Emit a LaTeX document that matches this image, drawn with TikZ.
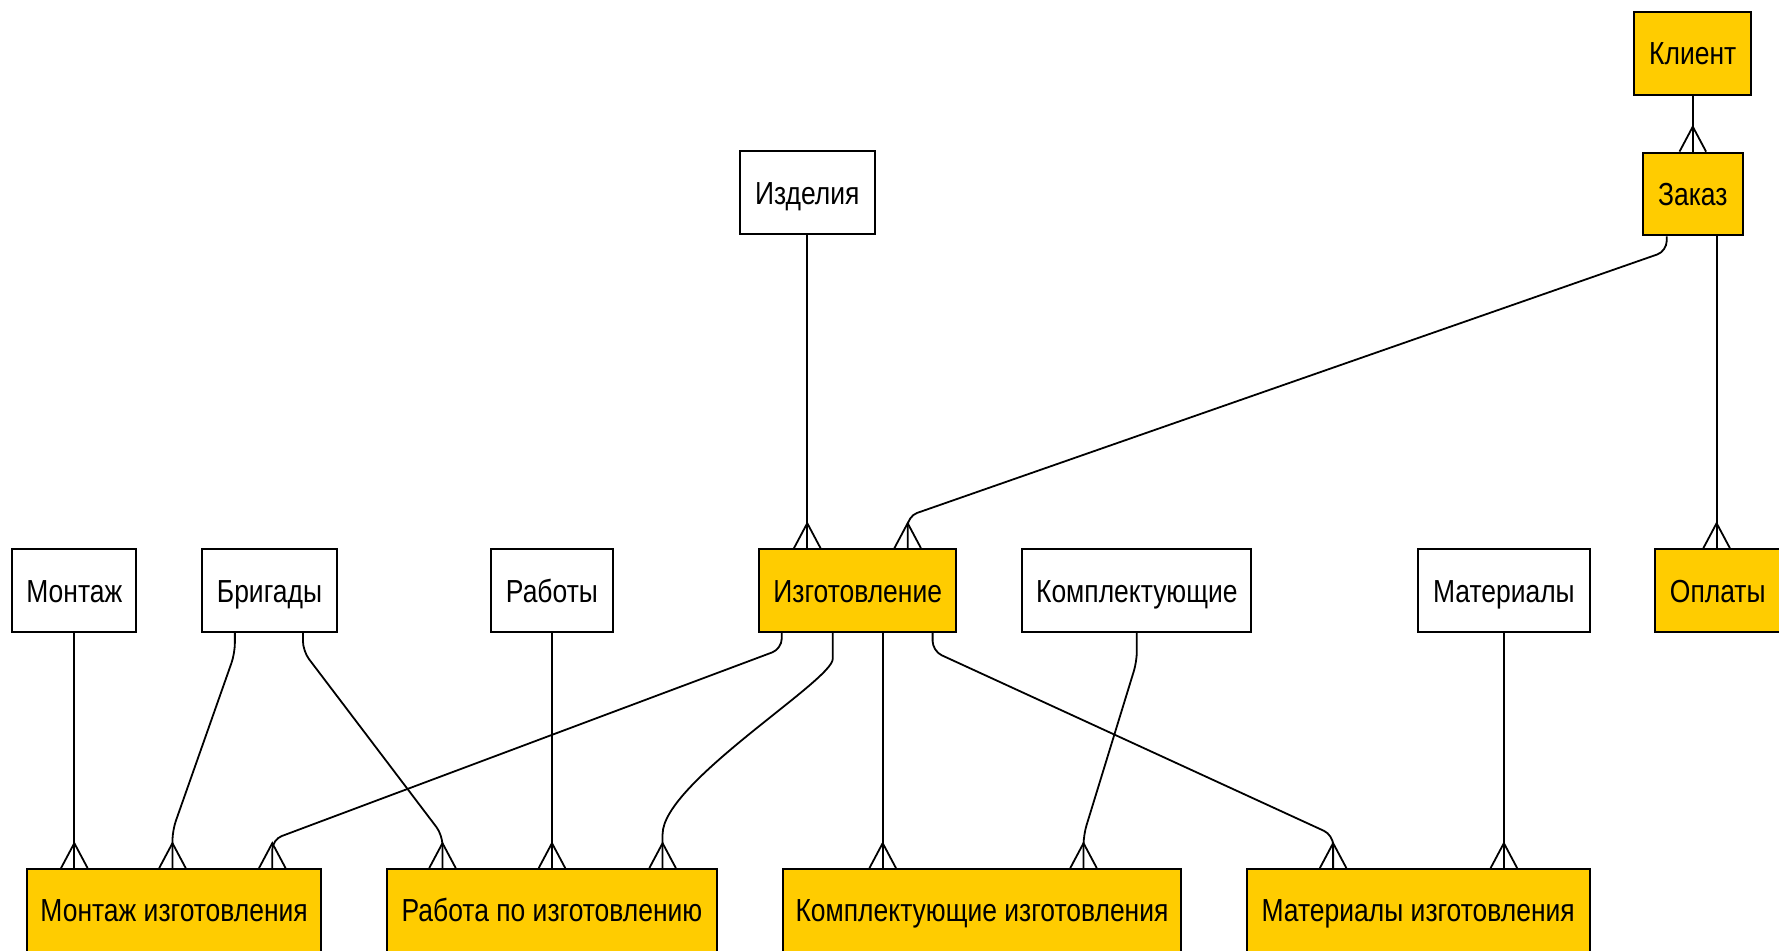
\documentclass[tikz,border=0pt]{standalone}
\usepackage{fontspec}
\setmainfont{Liberation Sans}[FakeStretch=0.83]
\usepackage{tikz}
\usetikzlibrary{positioning}
\definecolor{zheltyi}{HTML}{FFCC00}

\begin{document}
\begin{tikzpicture}[x=0.02cm, y=-0.02cm,
        tabla/.style={draw, line width=1pt, inner sep=0pt, minimum height=1.46cm,
            text height=11.5pt, text depth=0pt, font=\fontsize{16}{19}\selectfont},
        spravka/.style={tabla, fill=white},
        dannye/.style={tabla, fill=zheltyi},
        svyaz/.style={line width=0.9pt, rounded corners=5pt},
        crow/.pic={\draw[line width=0.9pt] (-11.7,0) -- (0,-22) -- (11.7,0);}]
        \useasboundingbox (0,0) rectangle (1568,838);
        \clip (0,0) rectangle (1568,838);
        \fill[white] (0,0) rectangle (1568,838);
        % Верхний ряд
        \node[dannye, minimum width=2.06cm] (klient) at (1492,47) {Клиент};
        \node[dannye, minimum width=1.76cm] (zakaz) at (1492,171) {Заказ};
        \node[spravka, minimum width=2.38cm] (izdeliya) at (711.5,170) {Изделия};
        % Средний ряд
        \node[spravka, minimum width=2.18cm] (montazh) at (65.5,520.5) {Монтаж};
        \node[spravka, minimum width=2.38cm] (brigady) at (237.5,520.5) {Бригады};
        \node[spravka, minimum width=2.14cm] (raboty) at (486.5,520.5) {Работы};
        \node[dannye, minimum width=3.48cm] (izgot) at (756,520.5) {Изготовление};
        \node[spravka, minimum width=4.04cm] (komplekt) at (1002,520.5) {Комплектующие};
        \node[spravka, minimum width=3.02cm] (materialy) at (1325.5,520.5) {Материалы};
        \node[dannye, minimum width=2.2cm] (oplaty) at (1514,520.5) {Оплаты};
        % Нижний ряд
        \node[dannye, minimum width=5.18cm] (montazhIzg) at (153.5,802.5) {Монтаж изготовления};
        \node[dannye, minimum width=5.82cm] (rabotaIzg) at (486.5,802.5) {Работа по изготовлению};
        \node[dannye, minimum width=7.02cm] (komplektIzg) at (865.5,802.5) {Комплектующие изготовления};
        \node[dannye, minimum width=6.04cm] (materialyIzg) at (1250,802.5) {Материалы изготовления};

        % Связи
        \draw[svyaz] (klient.south) -- (zakaz.north);
        \pic at (zakaz.north) {crow};
        \draw[svyaz] (1469,0 |- zakaz.south) -- ++(0,13) -- (800,455) -- (800,0 |- izgot.north);
        \pic at (800,0 |- izgot.north) {crow};
        \draw[svyaz] (1513,0 |- zakaz.south) -- (1513,0 |- oplaty.north);
        \pic at (1513,0 |- oplaty.north) {crow};
        \draw[svyaz] (izdeliya.south) -- (711.5,0 |- izgot.north);
        \pic at (711.5,0 |- izgot.north) {crow};

        \draw[svyaz] (montazh.south) -- (65.5,0 |- montazhIzg.north);
        \pic at (65.5,0 |- montazhIzg.north) {crow};
        \draw[svyaz] (207,0 |- brigady.south) -- ++(0,18) -- (152,732) -- (152,0 |- montazhIzg.north);
        \pic at (152,0 |- montazhIzg.north) {crow};
        \draw[svyaz] (267,0 |- brigady.south) -- ++(0,16) -- (390,736) -- (390,0 |- rabotaIzg.north);
        \pic at (390,0 |- rabotaIzg.north) {crow};
        \draw[svyaz] (raboty.south) -- (486.5,0 |- rabotaIzg.north);
        \pic at (486.5,0 |- rabotaIzg.north) {crow};

        \draw[svyaz] (689,0 |- izgot.south) -- ++(0,14) -- (240,740) -- (240,0 |- montazhIzg.north);
        \pic at (240,0 |- montazhIzg.north) {crow};
        \draw[svyaz] (734,0 |- izgot.south) -- ++(0,14) .. controls +(0,28) and +(0,-54) .. (584,744) -- (584,0 |- rabotaIzg.north);
        \pic at (584,0 |- rabotaIzg.north) {crow};
        \draw[svyaz] (778,0 |- izgot.south) -- (778,0 |- komplektIzg.north);
        \pic at (778,0 |- komplektIzg.north) {crow};
        \draw[svyaz] (822,0 |- izgot.south) -- ++(0,16) -- (1175,736) -- (1175,0 |- materialyIzg.north);
        \pic at (1175,0 |- materialyIzg.north) {crow};

        \draw[svyaz] (1002,0 |- komplekt.south) -- ++(0,25) -- (955,736) -- (955,0 |- komplektIzg.north);
        \pic at (955,0 |- komplektIzg.north) {crow};
        \draw[svyaz] (1325.5,0 |- materialy.south) -- (1325.5,0 |- materialyIzg.north);
        \pic at (1325.5,0 |- materialyIzg.north) {crow};
    \end{tikzpicture}
\end{document}
